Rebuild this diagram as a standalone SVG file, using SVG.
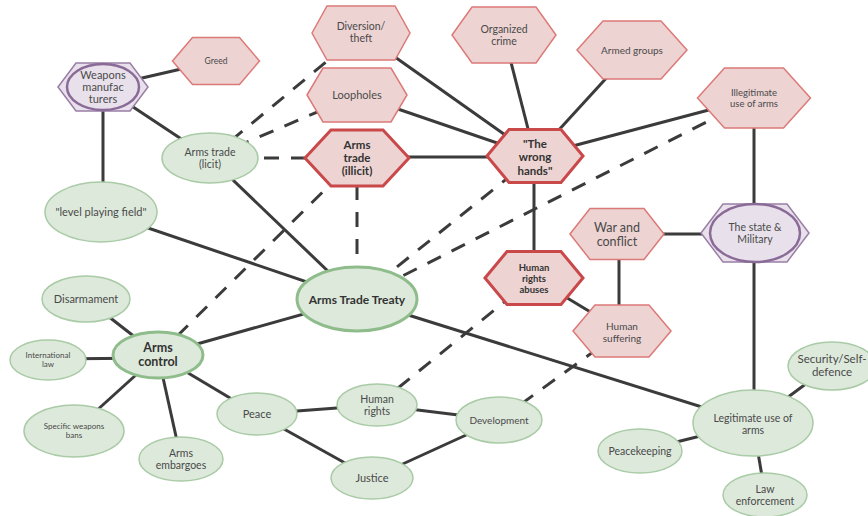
<svg xmlns="http://www.w3.org/2000/svg" width="868" height="516" viewBox="0 0 868 516">
  <style>
    .bg { fill: #ffffff; }
    .edge { stroke: #3b3b3b; stroke-width: 3; fill: none; stroke-linecap: butt; }
    .dash { stroke: #3b3b3b; stroke-width: 3; fill: none; stroke-dasharray: 15 12; }
    .green { fill: #dde9db; stroke: #a9cba6; stroke-width: 1.5; }
    .green-key { fill: #dde9db; stroke: #8fbc8b; stroke-width: 3; }
    .red { fill: #edd3d2; stroke: #dc7a78; stroke-width: 1.5; }
    .red-key { fill: #edd3d2; stroke: #c9484a; stroke-width: 3; }
    .purple { fill: #e8e1eb; stroke: #9a7ea6; stroke-width: 1.5; }
    .purple-in { fill: #e8e1eb; stroke: #8a6a97; stroke-width: 2.5; }
    text { font-family: Lato, "Liberation Sans", sans-serif; fill: #4a4a4a; text-anchor: middle; }
    .b { font-weight: bold; fill: #333333; }
  </style>
  <rect class="bg" x="0" y="0" width="868" height="516"/>

  <g id="connectors">
    <!-- solid links -->
    <line class="edge" x1="103" y1="87" x2="216" y2="61"/>
    <line class="edge" x1="103" y1="87" x2="210" y2="158"/>
    <line class="edge" x1="103" y1="87" x2="103" y2="212"/>
    <line class="edge" x1="101" y1="212" x2="357" y2="299"/>
    <line class="edge" x1="210" y1="158" x2="357" y2="299"/>
    <line class="edge" x1="357" y1="157" x2="535" y2="157"/>
    <line class="edge" x1="357" y1="95" x2="535" y2="156"/>
    <line class="edge" x1="361" y1="33" x2="535" y2="156"/>
    <line class="edge" x1="504" y1="35" x2="535" y2="156"/>
    <line class="edge" x1="632" y1="50" x2="535" y2="156"/>
    <line class="edge" x1="754" y1="98" x2="535" y2="156"/>
    <line class="edge" x1="534" y1="156" x2="534" y2="278"/>
    <line class="edge" x1="534" y1="278" x2="622" y2="331"/>
    <line class="edge" x1="619" y1="234" x2="619" y2="331"/>
    <line class="edge" x1="617" y1="234" x2="755" y2="234"/>
    <line class="edge" x1="754" y1="98" x2="754" y2="233"/>
    <line class="edge" x1="754" y1="233" x2="754" y2="423"/>
    <line class="edge" x1="357" y1="299" x2="158" y2="355"/>
    <line class="edge" x1="357" y1="299" x2="753" y2="423"/>
    <line class="edge" x1="158" y1="355" x2="86" y2="299"/>
    <line class="edge" x1="158" y1="358" x2="48" y2="359"/>
    <line class="edge" x1="158" y1="355" x2="74" y2="431"/>
    <line class="edge" x1="158" y1="355" x2="181" y2="459"/>
    <line class="edge" x1="158" y1="355" x2="257" y2="414"/>
    <line class="edge" x1="257" y1="414" x2="377" y2="405"/>
    <line class="edge" x1="377" y1="405" x2="499" y2="420"/>
    <line class="edge" x1="257" y1="414" x2="372" y2="478"/>
    <line class="edge" x1="372" y1="478" x2="499" y2="420"/>
    <line class="edge" x1="753" y1="423" x2="830" y2="366"/>
    <line class="edge" x1="753" y1="423" x2="640" y2="451"/>
    <line class="edge" x1="753" y1="423" x2="765" y2="494"/>
    <!-- dashed links -->
    <line class="dash" x1="210" y1="158" x2="361" y2="33"/>
    <line class="dash" x1="210" y1="158" x2="357" y2="95"/>
    <line class="dash" x1="210" y1="158" x2="357" y2="158"/>
    <line class="dash" x1="357" y1="158" x2="357" y2="299"/>
    <line class="dash" x1="535" y1="156" x2="357" y2="299"/>
    <line class="dash" x1="754" y1="98" x2="357" y2="299"/>
    <line class="dash" x1="158" y1="355" x2="357" y2="158"/>
    <line class="dash" x1="377" y1="405" x2="534" y2="278"/>
    <line class="dash" x1="499" y1="420" x2="622" y2="331"/>
  </g>

  <g id="weapons-manufacturers">
    <polygon class="purple" points="58,87 76,63 130,63 148,87 130,111 76,111"/>
    <ellipse class="purple-in" cx="103" cy="87" rx="36" ry="23"/>
    <text x="103" y="79" font-size="11">Weapons</text>
    <text x="103" y="91" font-size="11">manufac</text>
    <text x="103" y="103" font-size="11">turers</text>
  </g>
  <g id="greed">
    <polygon class="red" points="172.5,61 192.5,37.5 239.5,37.5 259.5,61 239.5,84.5 192.5,84.5"/>
    <text x="216" y="64" font-size="8.5">Greed</text>
  </g>
  <g id="arms-trade-licit">
    <ellipse class="green" cx="210" cy="158" rx="48" ry="25"/>
    <text x="210" y="156" font-size="10.5">Arms trade</text>
    <text x="210" y="168" font-size="10.5">(licit)</text>
  </g>
  <g id="level-playing-field">
    <ellipse class="green" cx="101" cy="212" rx="56" ry="30"/>
    <text x="101" y="216" font-size="11">"level playing field"</text>
  </g>
  <g id="diversion">
    <polygon class="red" points="312,33 327,6 395,6 410,33 395,60 327,60"/>
    <text x="361" y="30" font-size="10.5">Diversion/</text>
    <text x="361" y="42" font-size="10.5">theft</text>
  </g>
  <g id="loopholes">
    <polygon class="red" points="307,95 323,68 391,68 407,95 391,122 323,122"/>
    <text x="357" y="99" font-size="11">Loopholes</text>
  </g>
  <g id="arms-trade-illicit">
    <polygon class="red-key" points="305,158 331,130 383,130 409,158 383,186 331,186"/>
    <text class="b" x="357" y="149" font-size="11.5">Arms</text>
    <text class="b" x="357" y="162" font-size="11.5">trade</text>
    <text class="b" x="357" y="175" font-size="11.5">(illicit)</text>
  </g>
  <g id="organized-crime">
    <polygon class="red" points="452,35 472,7 536,7 556,35 536,63 472,63"/>
    <text x="504" y="33" font-size="10.5">Organized</text>
    <text x="504" y="45" font-size="10.5">crime</text>
  </g>
  <g id="armed-groups">
    <polygon class="red" points="577,50 603,21 661,21 687,50 661,79 603,79"/>
    <text x="632" y="54" font-size="10">Armed groups</text>
  </g>
  <g id="illegitimate-use">
    <polygon class="red" points="697.5,98 724.5,68 783.5,68 810.5,98 783.5,128 724.5,128"/>
    <text x="754" y="96" font-size="9.5">Illegitimate</text>
    <text x="754" y="107" font-size="9.5">use of arms</text>
  </g>
  <g id="wrong-hands">
    <polygon class="red-key" points="487,156 509,129.5 561,129.5 583,156 561,182.5 509,182.5"/>
    <text class="b" x="535" y="147.5" font-size="11.5">"The</text>
    <text class="b" x="535" y="161" font-size="11.5">wrong</text>
    <text class="b" x="535" y="174.5" font-size="11.5">hands"</text>
  </g>
  <g id="state-military">
    <polygon class="purple" points="701,233 723,204 787,204 809,233 787,262 723,262"/>
    <ellipse class="purple-in" cx="755" cy="233" rx="45" ry="29"/>
    <text x="755" y="231" font-size="10.5">The state &amp;</text>
    <text x="755" y="243" font-size="10.5">Military</text>
  </g>
  <g id="war-conflict">
    <polygon class="red" points="570,234 590,208.5 644,208.5 664,234 644,259.5 590,259.5"/>
    <text x="617" y="232" font-size="12.5">War and</text>
    <text x="617" y="246" font-size="12.5">conflict</text>
  </g>
  <g id="human-rights-abuses">
    <polygon class="red-key" points="485,278 507,251.5 561,251.5 583,278 561,304.5 507,304.5"/>
    <text class="b" x="534" y="271" font-size="9.5">Human</text>
    <text class="b" x="534" y="282" font-size="9.5">rights</text>
    <text class="b" x="534" y="293" font-size="9.5">abuses</text>
  </g>
  <g id="human-suffering">
    <polygon class="red" points="573,331 595,305 649,305 671,331 649,357 595,357"/>
    <text x="622" y="330" font-size="10">Human</text>
    <text x="622" y="342" font-size="10">suffering</text>
  </g>
  <g id="arms-trade-treaty">
    <ellipse class="green-key" cx="357" cy="299" rx="60" ry="32"/>
    <text class="b" x="357" y="304" font-size="12">Arms Trade Treaty</text>
  </g>
  <g id="arms-control">
    <ellipse class="green-key" cx="158" cy="355" rx="45" ry="23"/>
    <text class="b" x="158" y="352" font-size="12.5">Arms</text>
    <text class="b" x="158" y="366" font-size="12.5">control</text>
  </g>
  <g id="disarmament">
    <ellipse class="green" cx="86" cy="299" rx="44" ry="23"/>
    <text x="86" y="303" font-size="11">Disarmament</text>
  </g>
  <g id="international-law">
    <ellipse class="green" cx="48" cy="360" rx="38" ry="20"/>
    <text x="48" y="358" font-size="8">International</text>
    <text x="48" y="367" font-size="8">law</text>
  </g>
  <g id="specific-weapons-bans">
    <ellipse class="green" cx="74" cy="431" rx="50" ry="26"/>
    <text x="74" y="429" font-size="8">Specific weapons</text>
    <text x="74" y="438" font-size="8">bans</text>
  </g>
  <g id="arms-embargoes">
    <ellipse class="green" cx="181" cy="459" rx="42" ry="22"/>
    <text x="181" y="457" font-size="10.5">Arms</text>
    <text x="181" y="469" font-size="10.5">embargoes</text>
  </g>
  <g id="peace">
    <ellipse class="green" cx="257" cy="414" rx="40" ry="21"/>
    <text x="257" y="418" font-size="11">Peace</text>
  </g>
  <g id="human-rights">
    <ellipse class="green" cx="377" cy="405" rx="40" ry="21"/>
    <text x="377" y="403" font-size="10.5">Human</text>
    <text x="377" y="415" font-size="10.5">rights</text>
  </g>
  <g id="development">
    <ellipse class="green" cx="499" cy="420" rx="43" ry="23"/>
    <text x="499" y="424" font-size="10">Development</text>
  </g>
  <g id="justice">
    <ellipse class="green" cx="372" cy="478" rx="41" ry="21"/>
    <text x="372" y="482" font-size="11">Justice</text>
  </g>
  <g id="legitimate-use">
    <ellipse class="green" cx="753" cy="423" rx="60" ry="33"/>
    <text x="753" y="422" font-size="10.5">Legitimate use of</text>
    <text x="753" y="434" font-size="10.5">arms</text>
  </g>
  <g id="security-self-defence">
    <ellipse class="green" cx="832" cy="366" rx="44" ry="24"/>
    <text x="832" y="363" font-size="11.5">Security/Self-</text>
    <text x="832" y="376" font-size="11.5">defence</text>
  </g>
  <g id="peacekeeping">
    <ellipse class="green" cx="640" cy="451" rx="42" ry="22"/>
    <text x="640" y="455" font-size="10.5">Peacekeeping</text>
  </g>
  <g id="law-enforcement">
    <ellipse class="green" cx="765" cy="495" rx="42" ry="22"/>
    <text x="765" y="493" font-size="10.5">Law</text>
    <text x="765" y="505" font-size="10.5">enforcement</text>
  </g>
</svg>
